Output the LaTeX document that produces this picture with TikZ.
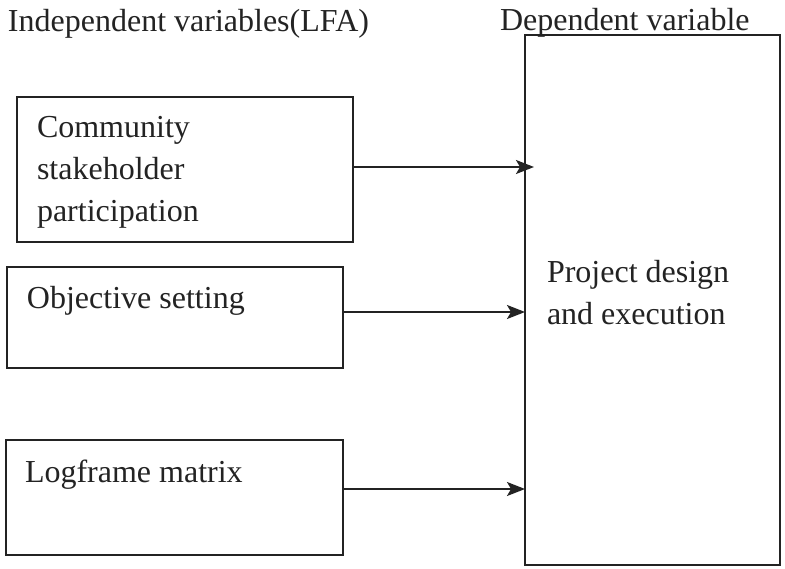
\documentclass[tikz,border=0pt]{standalone}
\usepackage{fontspec}
\setmainfont{Liberation Serif}
\usetikzlibrary{arrows.meta}
\definecolor{ink}{RGB}{35,35,35}
\begin{document}
\begin{tikzpicture}[x=1pt,y=-1pt,
  every node/.style={inner sep=0pt, outer sep=0pt, text=ink},
  txt/.style={font=\fontsize{32}{42}\selectfont, align=left},
  box/.style={draw=ink, line width=1.5pt, anchor=north west},
  conn/.style={draw=ink, line width=1.5pt, -{Stealth[length=18pt,width=14pt,inset=4pt]}}]
\useasboundingbox[fill=white] (0,0) rectangle (785,568);
% boxes
\node[box, minimum width=336pt, minimum height=145pt] (b1) at (17,97) {};
\node[box, minimum width=336pt, minimum height=101pt] (b2) at (7,267) {};
\node[box, minimum width=337pt, minimum height=115pt] (b3) at (6,440) {};
\node[box, minimum width=255pt, minimum height=530pt] (dv) at (525,35) {};
% headings
\node[txt, anchor=base west] (h1) at (8,31) {Independent variables(LFA)};
\node[txt, anchor=base west] (h2) at (500,30) {Dependent variable};
% box texts
\node[txt, anchor=north west] (t1) at (37,116) {Community\\stakeholder\\participation};
\node[txt, anchor=base west] (t2) at (27,308) {Objective setting};
\node[txt, anchor=base west] (t3) at (25,482) {Logframe matrix};
\node[txt, anchor=north west] (t4) at (547,260) {Project design\\and execution};
% connectors
\draw[conn] ([yshift=2.5pt]b1.east) -- ([xshift=9pt,yshift=2.5pt]b1.east -| dv.west);
\draw[conn] ([yshift=5.5pt]b2.east) -- ([yshift=5.5pt]b2.east -| dv.west);
\draw[conn] ([yshift=8.5pt]b3.east) -- ([yshift=8.5pt]b3.east -| dv.west);
\end{tikzpicture}
\end{document}
